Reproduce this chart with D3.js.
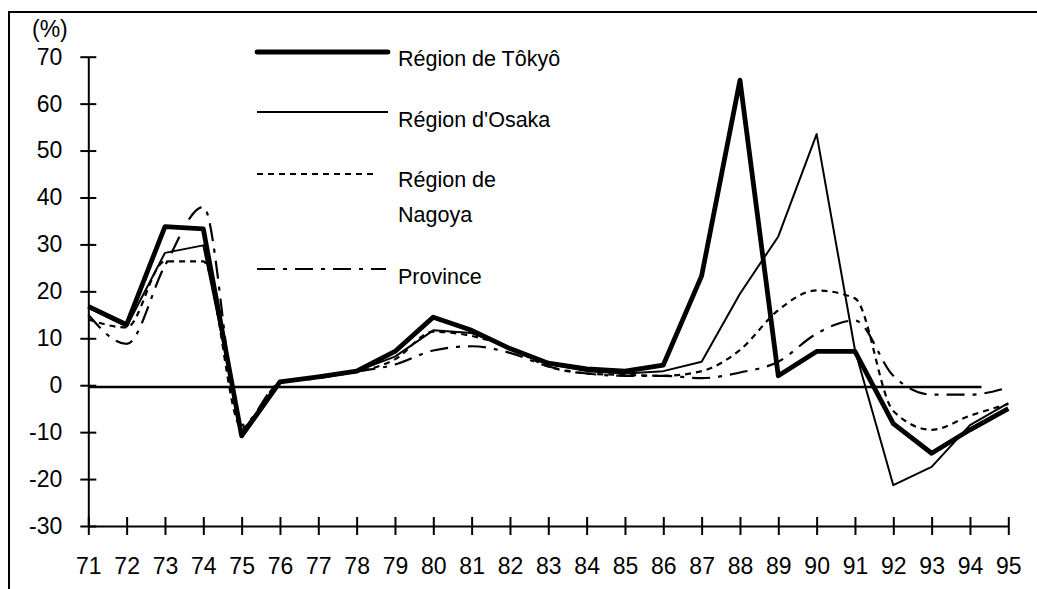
<!DOCTYPE html>
<html>
<head>
<meta charset="utf-8">
<script src="https://cdn.jsdelivr.net/npm/d3@7"></script>
<style>
  body { margin: 0; background: #fff; }
  svg text { font-family: "Liberation Sans", Arial, sans-serif; fill: #000; }
</style>
</head>
<body>
<div id="chart"></div>
<script>
// years on the x axis (labels are the last two digits)
var years = [71, 72, 73, 74, 75, 76, 77, 78, 79, 80, 81, 82, 83, 84, 85, 86, 87, 88, 89, 90, 91, 92, 93, 94, 95];
var yTicks = [-30, -20, -10, 0, 10, 20, 30, 40, 50, 60, 70];

// annual change, %
var tokyo    = [16.8, 12.9, 33.8, 33.3, -10.8, 0.7, 1.8, 3.0, 7.2, 14.5, 11.7, 7.8, 4.7, 3.5, 3.0, 4.3, 23.3, 65.0, 2.0, 7.2, 7.2, -8.2, -14.5, -9.5, -5.0];
var osaka    = [16.5, 12.5, 28.2, 29.8, -10.0, 0.5, 1.8, 3.0, 6.1, 11.7, 11.1, 7.9, 4.5, 3.0, 2.5, 3.0, 5.0, 19.5, 31.7, 53.5, 7.5, -21.3, -17.4, -8.5, -3.8];
var nagoya   = [14.0, 12.3, 26.4, 26.4, -9.0, 0.5, 1.8, 2.8, 5.5, 11.4, 10.5, 8.0, 4.0, 2.5, 2.2, 2.0, 3.0, 7.5, 16.0, 20.2, 18.5, -5.5, -9.5, -6.5, -4.0];
var province = [15.0, 8.8, 25.5, 38.0, -8.5, 0.5, 1.5, 2.9, 4.4, 7.4, 8.3, 6.9, 4.0, 2.5, 2.0, 2.0, 1.5, 2.7, 5.0, 11.0, 13.8, 2.0, -2.0, -2.0, -0.5];

var seriesNames = ["Région de Tôkyô", "Région d'Osaka", "Région de\nNagoya", "Province"];

var width = 1037, height = 589;

var x = d3.scaleLinear().domain([71, 95]).range([88.3, 1008.3]);
var y = d3.scaleLinear().domain([-30, 70]).range([526, 56.7]);

var svg = d3.select("#chart").append("svg")
    .attr("width", width)
    .attr("height", height);

// outer frame (only top and left are visible)
svg.append("path")
    .attr("d", "M9,589 V12 H1037")
    .attr("fill", "none")
    .attr("stroke", "#000")
    .attr("stroke-width", 2);

svg.append("text")
    .attr("x", 32)
    .attr("y", 37)
    .style("font-size", "23px")
    .text("(%)");

// y axis with crossing ticks
var yAxis = svg.append("g")
    .attr("transform", "translate(" + x(71) + ",0)")
    .call(d3.axisLeft(y).tickValues(yTicks).tickFormat(function (d) { return String(d); })
        .tickSize(8).tickSizeOuter(0).tickPadding(0));
yAxis.select(".domain").attr("stroke", "#000").attr("stroke-width", 2);
yAxis.selectAll(".tick line").attr("x1", 8).attr("x2", -8).attr("stroke-width", 2);
yAxis.selectAll(".tick text")
    .attr("x", -26)
    .style("font-size", "23px")
    .style("font-family", "Liberation Sans, Arial, sans-serif");

// x axis with crossing ticks
var xAxis = svg.append("g")
    .attr("transform", "translate(0," + y(-30) + ")")
    .call(d3.axisBottom(x).tickValues(years).tickFormat(function (d) { return String(d); })
        .tickSize(8).tickSizeOuter(0));
xAxis.select(".domain").attr("stroke", "#000").attr("stroke-width", 2);
xAxis.selectAll(".tick line").attr("y1", -9).attr("y2", 9).attr("stroke-width", 2);
xAxis.selectAll(".tick text")
    .attr("y", 48)
    .attr("dy", 0)
    .style("font-size", "23px")
    .style("font-family", "Liberation Sans, Arial, sans-serif");

// zero reference line
var zeroLine = [{ yr: 71, v: -0.4 }, { yr: 94.3, v: -0.4 }];
svg.append("path")
    .datum(zeroLine)
    .attr("fill", "none")
    .attr("stroke", "#000")
    .attr("stroke-width", 2.5)
    .attr("d", d3.line().x(function (d) { return x(d.yr); }).y(function (d) { return y(d.v); }));

var styles = [
    { data: tokyo, w: 4.8, dash: null, curve: d3.curveLinear },
    { data: osaka, w: 2, dash: null, curve: d3.curveLinear },
    { data: nagoya, w: 2.2, dash: "6,5", curve: d3.curveMonotoneX },
    { data: province, w: 2.2, dash: "18,8,4,8", curve: d3.curveMonotoneX }
];

// draw province first so tokyo sits on top
styles.slice().reverse().forEach(function (s) {
    var line = d3.line()
        .x(function (d, i) { return x(years[i]); })
        .y(function (d) { return y(d); })
        .curve(s.curve);
    svg.append("path")
        .datum(s.data)
        .attr("fill", "none")
        .attr("stroke", "#000")
        .attr("stroke-width", s.w)
        .attr("stroke-linejoin", "round")
        .attr("stroke-dasharray", s.dash)
        .attr("d", line);
});

// legend
var legendRows = [
    { ly: 52, x2: 388, ty: [66] },
    { ly: 112, x2: 388, ty: [127] },
    { ly: 174, x2: 378, ty: [187, 222] },
    { ly: 269, x2: 386, ty: [284] }
];
legendRows.forEach(function (r, i) {
    svg.append("line")
        .attr("x1", 257).attr("x2", r.x2)
        .attr("y1", r.ly).attr("y2", r.ly)
        .attr("stroke", "#000")
        .attr("stroke-width", styles[i].w)
        .attr("stroke-linecap", i === 0 ? "round" : "butt")
        .attr("stroke-dasharray", styles[i].dash);
    var parts = seriesNames[i].split("\n");
    parts.forEach(function (p, j) {
        svg.append("text")
            .attr("x", 398)
            .attr("y", r.ty[j])
            .style("font-size", "21.5px")
            .text(p);
    });
});
</script>
</body>
</html>
